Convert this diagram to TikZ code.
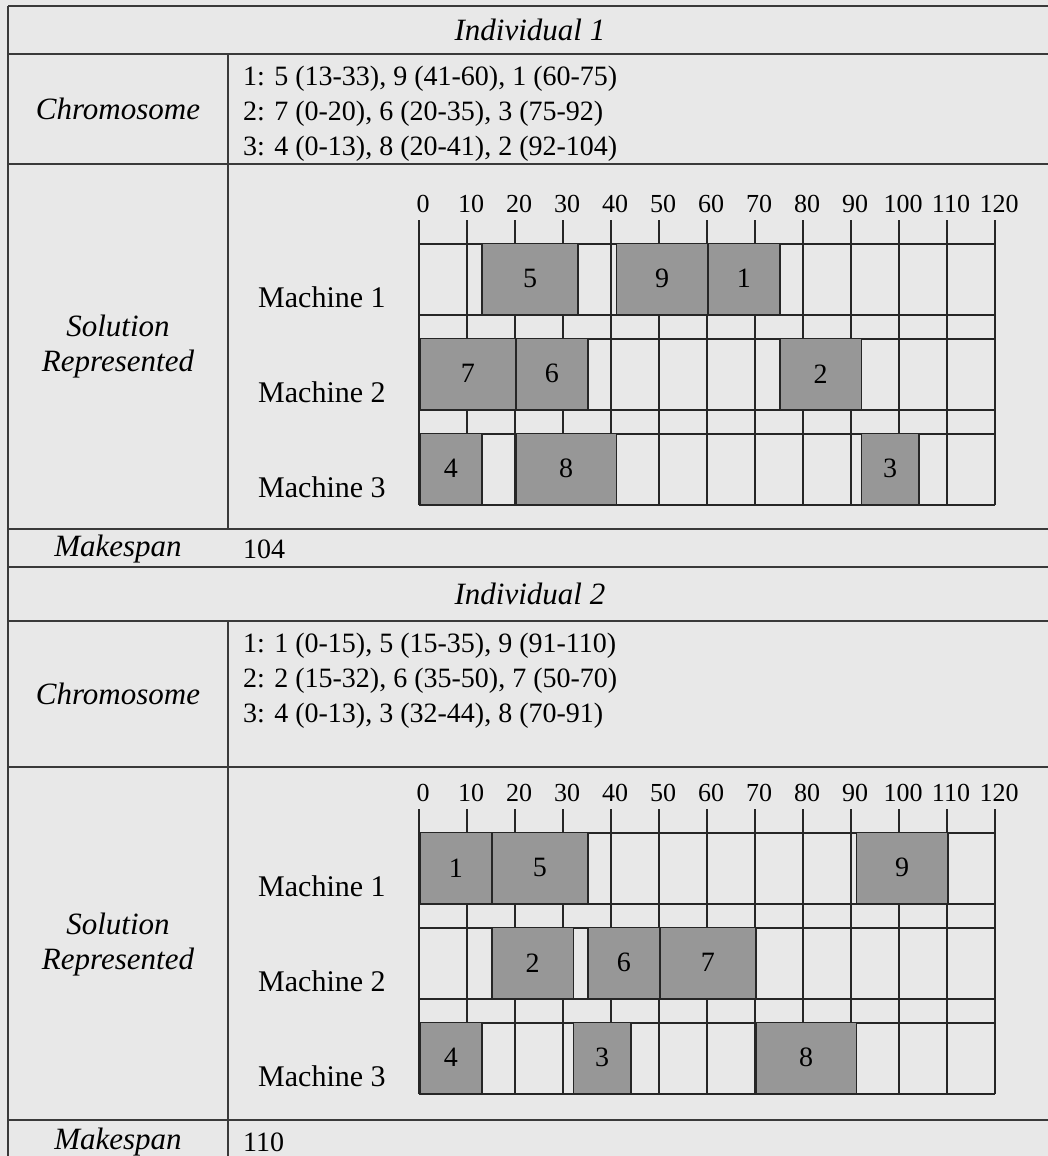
\documentclass[tikz,border=0pt]{standalone}
\usepackage{fontspec}
\setmainfont{Liberation Serif}
\usepackage{xcolor}
\definecolor{paper}{HTML}{E8E8E8}
\definecolor{rule}{HTML}{3A3A3A}
\definecolor{jobfill}{HTML}{979797}
\usepackage{tikz}
\usetikzlibrary{positioning, calc}

% one gantt chart: #1 = y of the tick tops, #2 = name prefix, #3 = machine/job/start/end
\newcommand{\ganttchart}[3]{%
  \foreach \tk in {0,10,...,120} {
    \draw[gline] (419+4.8*\tk, #1) -- (419+4.8*\tk, #1+285);
    \node[ticklabel] (#2-t\tk) at (423+4.8*\tk, #1-16) {\tk};
  }
  \foreach \row in {1,2,3} {
    \draw[gline] (419, #1-71+95*\row) -- (995, #1-71+95*\row);
    \draw[gline] (419, #1+95*\row) -- (995, #1+95*\row);
    \node[machine] (#2-m\row) at (258, #1-18+95*\row) {Machine \row};
  }
  \foreach \mc/\jb/\st/\en in {#3} {
    \node[job, minimum width={4.8pt*(\en-\st)}] (#2-j\jb)
      at (419+4.8*\st, #1+95*\mc) {\raisebox{-4pt}{\jb}};
  }
}

\begin{document}
\begin{tikzpicture}[x=1pt, y=-1pt,
    tline/.style={draw=rule, line width=1.8pt},
    gline/.style={draw=black!85, line width=1.5pt},
    head/.style={font=\fontsize{31}{35}\selectfont\itshape, align=center},
    body/.style={font=\fontsize{28}{35}\selectfont, align=left, inner sep=0pt},
    ticklabel/.style={font=\fontsize{26}{30}\selectfont, inner sep=0pt},
    machine/.style={font=\fontsize{30}{35}\selectfont, anchor=west, inner sep=0pt},
    job/.style={draw=black!85, line width=1.5pt, fill=jobfill, anchor=south west,
                minimum height=71pt, inner sep=0pt,
                font=\fontsize{28}{30}\selectfont}]
  \useasboundingbox[fill=paper] (0,0) rectangle (1048,1156);

  % table rules
  \draw[tline] (8,6) -- (1048,6);
  \foreach \yy in {54,164,529,567,621,767,1120}
    \draw[tline] (8,\yy) -- (1048,\yy);
  \draw[tline] (8,6) -- (8,1156);
  \draw[tline] (228,54) -- (228,529);
  \draw[tline] (228,621) -- (228,1156);

  % individual 1
  \node[head] (ind1) at (530,30) {Individual 1};
  \node[head] (chrom1-label) at (118,109) {Chromosome};
  \node[body, anchor=north west] (chrom1) at (243,66)
    {1: 5 (13-33), 9 (41-60), 1 (60-75)\\
     2: 7 (0-20), 6 (20-35), 3 (75-92)\\
     3: 4 (0-13), 8 (20-41), 2 (92-104)};
  \node[head] (sol1-label) at (118,347) {Solution\\Represented};
  \ganttchart{220}{g1}{1/5/13/33, 1/9/41/60, 1/1/60/75,
                       2/7/0/20, 2/6/20/35, 2/2/75/92,
                       3/4/0/13, 3/8/20/41, 3/3/92/104}
  \node[head] (mk1-label) at (118,549) {Makespan};
  \node[body, anchor=west] (mk1) at (243,549) {104};

  % individual 2
  \node[head] (ind2) at (530,594) {Individual 2};
  \node[head] (chrom2-label) at (118,694) {Chromosome};
  \node[body, anchor=north west] (chrom2) at (243,633)
    {1: 1 (0-15), 5 (15-35), 9 (91-110)\\
     2: 2 (15-32), 6 (35-50), 7 (50-70)\\
     3: 4 (0-13), 3 (32-44), 8 (70-91)};
  \node[head] (sol2-label) at (118,945) {Solution\\Represented};
  \ganttchart{809}{g2}{1/1/0/15, 1/5/15/35, 1/9/91/110,
                       2/2/15/32, 2/6/35/50, 2/7/50/70,
                       3/4/0/13, 3/3/32/44, 3/8/70/91}
  \node[head] (mk2-label) at (118,1142) {Makespan};
  \node[body, anchor=west] (mk2) at (243,1142) {110};
\end{tikzpicture}
\end{document}
